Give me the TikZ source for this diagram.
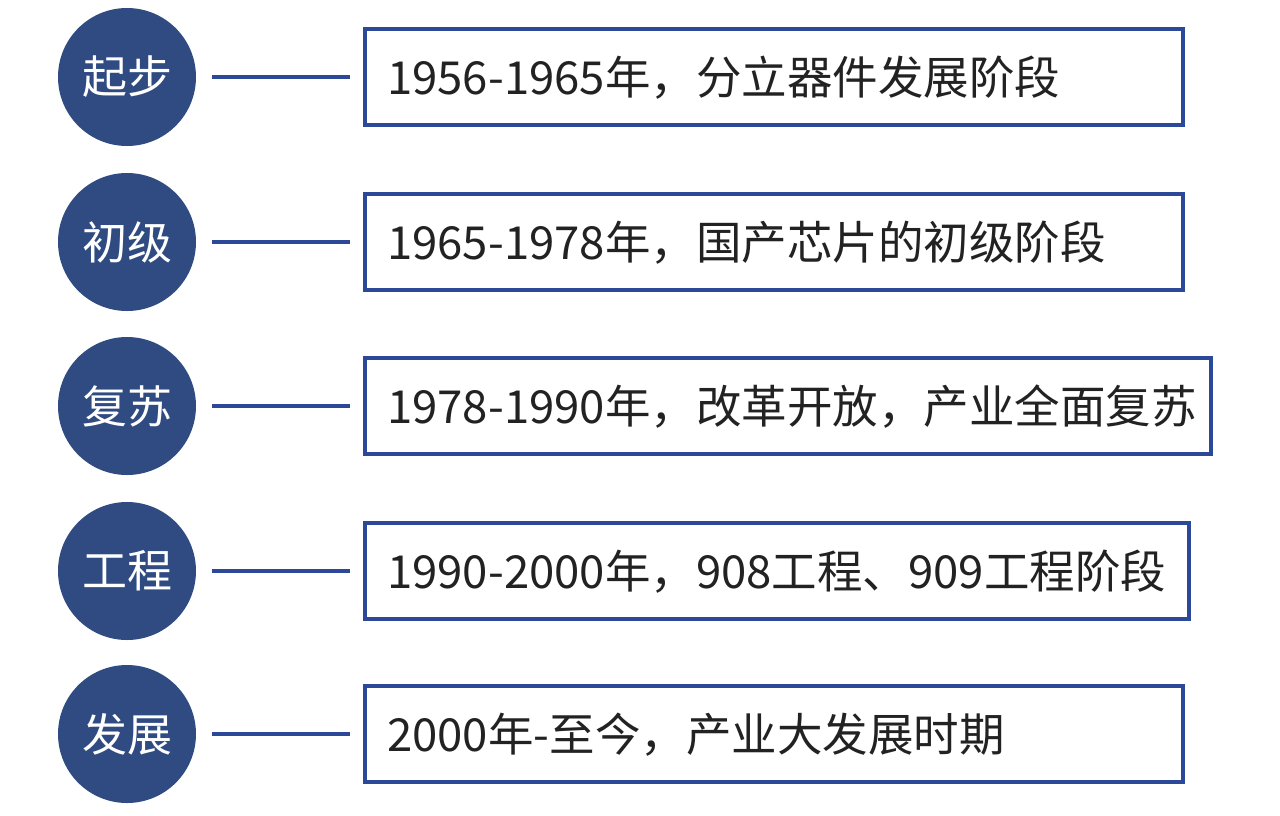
\documentclass[tikz,border=0pt]{standalone}
\usepackage{fontspec}
\setmainfont{Noto Sans CJK SC}
\definecolor{circblue}{HTML}{2F4B82}
\definecolor{lineblue}{HTML}{2B4998}
\definecolor{txt}{HTML}{222222}
\begin{document}
\begin{tikzpicture}[x=1pt,y=-1pt,
  stage/.style={circle,fill=circblue,minimum size=138pt,inner sep=0pt,text=white,font=\fontsize{45}{45}\selectfont},
  periodbox/.style={draw=lineblue,line width=4pt,minimum height=96pt,inner sep=0pt,anchor=west},
  periodtext/.style={anchor=west,text=txt,inner sep=0pt,font=\fontsize{45.5}{45.5}\selectfont},
  link/.style={draw=lineblue,line width=4pt,shorten <=16pt,shorten >=13pt}]
\useasboundingbox (0,0) rectangle (1280,815);
\fill[white] (0,0) rectangle (1280,815);
\foreach \i/\y/\w/\lab/\txt in {
  1/77/818/起步/{1956-1965年，分立器件发展阶段},
  2/242/818/初级/{1965-1978年，国产芯片的初级阶段},
  3/406/846/复苏/{1978-1990年，改革开放，产业全面复苏},
  4/571/824/工程/{1990-2000年，908工程、909工程阶段},
  5/734/818/发展/{2000年-至今，产业大发展时期}}{
  \node[stage] (c\i) at (127,\y) {\lab};
  \node[periodbox,minimum width=\w pt] (b\i) at (363,\y) {};
  \node[periodtext] (t\i) at ([xshift=24pt,yshift=-1pt]b\i.west) {\txt};
  \draw[link] (c\i) -- (b\i);
}
\end{tikzpicture}
\end{document}
